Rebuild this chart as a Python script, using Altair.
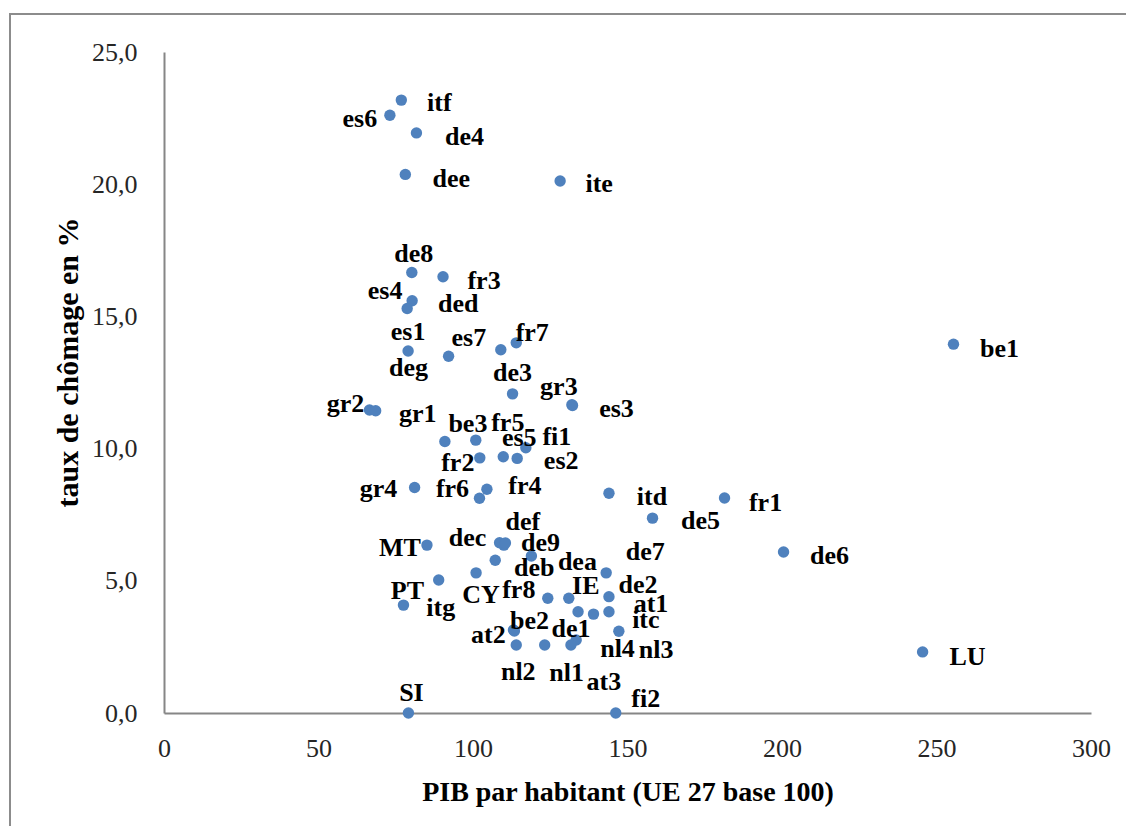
import altair as alt
import pandas as pd

# ---- data ----
names = ["itf", "es6", "de4", "dee", "ite", "de8", "fr3", "es4", "ded", "es1",
         "deg", "es7", "fr7", "de3", "gr3", "es3", "gr2", "gr1", "be3", "fr5",
         "es5", "fi1", "fr2", "es2", "gr4", "fr6", "fr4", "itd", "de5", "fr1",
         "de6", "be1", "LU", "MT", "dec", "def", "de9", "dea", "deb", "de7",
         "CY", "itg", "PT", "fr8", "IE", "de2", "at1", "itc", "de1", "nl4",
         "nl3", "at3", "nl1", "nl2", "be2", "at2", "SI", "fi2"]
pib = [76.8, 73.1, 81.7, 78.1, 128.2, 80.2, 90.3, 80.3, 78.7, 79.0,
       92.1, 109.0, 114.0, 112.8, 132.0, 132.2, 66.5, 68.5, 90.9, 100.9,
       109.8, 117.1, 102.2, 114.3, 81.1, 102.1, 104.5, 144.0, 158.1, 181.4,
       200.5, 255.5, 245.5, 85.1, 108.6, 110.0, 110.5, 118.9, 107.2, 143.1,
       101.0, 88.9, 77.5, 124.2, 131.0, 144.0, 144.0, 147.2, 134.0, 139.0,
       133.4, 131.7, 123.2, 114.0, 113.1, 113.4, 79.1, 146.2]
chomage = [23.18, 22.61, 21.94, 20.37, 20.12, 16.66, 16.50, 15.59, 15.30, 13.69,
           13.49, 13.74, 14.00, 12.07, 11.66, 11.63, 11.46, 11.43, 10.27, 10.32,
           9.69, 10.03, 9.65, 9.63, 8.53, 8.12, 8.46, 8.31, 7.37, 8.13,
           6.09, 13.95, 2.31, 6.35, 6.44, 6.35, 6.43, 5.94, 5.78, 5.30,
           5.30, 5.03, 4.08, 4.34, 4.34, 4.40, 3.83, 3.09, 3.83, 3.74,
           2.76, 2.57, 2.57, 2.57, 3.14, 3.10, 0.0, 0.0]

# label placement (pixel offsets of each data label from its point) - styling only
label_dx = [38, -30, 48, 46, 39, 2, 41, -27, 51, 0,
            -40, -32, 16, 0, -13, 44, -24, 42, 23, 32,
            16, 31, -22, 44, -36, -27, 38, 43, 48, 41,
            46, 46, 45, -27, -32, 19, 35, 46, 39, 39,
            5, 2, 4, -29, 17, 29, 42, 27, -7, 24,
            80, 33, 22, 2, 16, -26, 3, 30]
label_dy = [3, 4, 4, 5, 3, -19, 4, -10, -4, -19,
            12, -12, -10, -21, -18, 3, -6, 3, -17, -17,
            -19, -11, 5, 3, 2, -9, -3, 4, 3, 5,
            4, 5, 5, 3, -5, -23, 0, 6, 8, -21,
            22, 28, -14, -8, -12, -12, -8, -11, 17, 35,
            10, 37, 28, 27, -9, 4, -20, -14]

x_ticks = [0, 50, 100, 150, 200, 250, 300]
y_ticks = [0, 5, 10, 15, 20, 25]

df = pd.DataFrame({"nom": names, "pib": pib, "chomage": chomage,
                   "dx": label_dx, "dy": label_dy})

SERIF = "Liberation Serif"
W, H = 927, 661
X_MAX, Y_MAX = 300, 25

x_scale = alt.Scale(domain=[0, X_MAX], nice=False)
y_scale = alt.Scale(domain=[0, Y_MAX], nice=False)

x_enc = alt.X("pib:Q", scale=x_scale,
              axis=alt.Axis(values=x_ticks, format="d", grid=False, ticks=False, tickSize=0,
                            labelFlush=False, labelOverlap=False,
                            labelPadding=22, labelFont=SERIF, labelFontSize=26,
                            labelColor="#262626", domainColor="#868686", domainWidth=2,
                            title="PIB par habitant (UE 27 base 100)",
                            titleFont=SERIF, titleFontSize=28, titleFontWeight="bold",
                            titleColor="#000000", titleY=79, titleBaseline="middle"))
y_enc = alt.Y("chomage:Q", scale=y_scale,
              axis=alt.Axis(values=y_ticks, grid=False, ticks=False, tickSize=0,
                            labelFlush=False, labelOverlap=False,
                            labelExpr="replace(format(datum.value, '.1f'), '.', ',')",
                            labelPadding=27, labelFont=SERIF, labelFontSize=26,
                            labelColor="#262626", domainColor="#868686", domainWidth=2,
                            title="taux de chômage en %",
                            titleFont=SERIF, titleFontSize=30, titleFontWeight="bold",
                            titleColor="#000000", titleX=-96, titleY=310,
                            titleAngle=270, titleBaseline="middle", titleAlign="center"))

frame = alt.Chart(pd.DataFrame({"k": [0]})).mark_rect(
    filled=False, stroke="#8c8c8c", strokeWidth=2
).encode(x=alt.value(-154), x2=alt.value(1400), y=alt.value(-38), y2=alt.value(1200))

points = alt.Chart(df).mark_circle(size=130, color="#4F81BD", opacity=1).encode(
    x=x_enc, y=y_enc)

# labels: each label shifted from its point by its pixel offset (converted to data units)
labels = alt.Chart(df).transform_calculate(
    lx=f"datum.pib + datum.dx * {X_MAX} / {W}",
    ly=f"datum.chomage - datum.dy * {Y_MAX} / {H}",
).mark_text(
    font=SERIF, fontSize=26, fontWeight="bold", color="#000000",
    align="center", baseline="middle"
).encode(
    x=alt.X("lx:Q", scale=x_scale),
    y=alt.Y("ly:Q", scale=y_scale),
    text="nom:N")

chart = alt.layer(frame, points, labels).properties(
    width=W, height=H,
    autosize=alt.AutoSizeParams(type="none"),
    padding={"left": 156, "top": 44, "right": 35, "bottom": 113},
    background="white"
).configure_view(stroke=None)

chart.save("out.html", embed_options={"renderer": "svg", "actions": False})
